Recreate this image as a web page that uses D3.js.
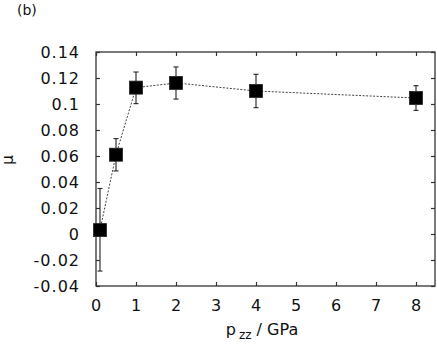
<!DOCTYPE html>
<html>
<head>
<meta charset="utf-8">
<script src="https://cdn.jsdelivr.net/npm/d3@7"></script>
<style>
  body { margin: 0; background: #fff; }
  text { font-family: "DejaVu Sans", sans-serif; fill: #111; }
</style>
</head>
<body>
<div id="chart"></div>
<script>
const WIDTH = 437;
const HEIGHT = 345;

// data
const pressure = [0.1, 0.5, 1, 2, 4, 8];
const mu = [0.003, 0.061, 0.1126, 0.1162, 0.110, 0.1046];
const errUp = [0.032, 0.0124, 0.012, 0.0123, 0.0128, 0.0095];
const errDown = [0.0315, 0.0125, 0.0123, 0.0124, 0.0128, 0.0095];
const xTicks = [0, 1, 2, 3, 4, 5, 6, 7, 8];
const yTicks = [-0.04, -0.02, 0, 0.02, 0.04, 0.06, 0.08, 0.1, 0.12, 0.14];

const LEFT = 96, RIGHT = 435, TOP = 52, BOTTOM = 286;

const x = d3.scaleLinear().domain([0, 8.475]).range([LEFT, RIGHT]);
const y = d3.scaleLinear().domain([-0.04, 0.14]).range([BOTTOM, TOP]);

const svg = d3.select('#chart').append('svg')
  .attr('width', WIDTH)
  .attr('height', HEIGHT);

// plain hyphen for negatives, like the original
const fmt = d => String(+d.toFixed(2));

// ticks on all four sides, pointing inwards
const TL = 4;
svg.append('g')
  .attr('transform', `translate(0,${BOTTOM})`)
  .call(d3.axisBottom(x).tickValues(xTicks).tickSize(-TL).tickPadding(14).tickFormat(d3.format('d')));
svg.append('g')
  .attr('transform', `translate(0,${TOP})`)
  .call(d3.axisTop(x).tickValues(xTicks).tickSize(-TL).tickFormat(''));
svg.append('g')
  .attr('transform', `translate(${LEFT},0)`)
  .call(d3.axisLeft(y).tickValues(yTicks).tickSize(-TL).tickPadding(16).tickFormat(fmt));
svg.append('g')
  .attr('transform', `translate(${RIGHT},0)`)
  .call(d3.axisRight(y).tickValues(yTicks).tickSize(-TL).tickFormat(''));

svg.selectAll('.domain').remove();
svg.selectAll('.tick line').attr('stroke', '#333').attr('stroke-width', 1.2);
svg.selectAll('.tick text')
  .style('font-size', '16px')
  .style('letter-spacing', '1px')
  .attr('fill', '#111');

svg.append('rect')
  .attr('x', LEFT).attr('y', TOP)
  .attr('width', RIGHT - LEFT).attr('height', BOTTOM - TOP)
  .attr('fill', 'none')
  .attr('stroke', '#333')
  .attr('stroke-width', 1.3);

const pts = pressure.map((p, i) => ({ p, m: mu[i], up: errUp[i], dn: errDown[i] }));

// dotted connecting line
svg.append('path')
  .datum(pts)
  .attr('fill', 'none')
  .attr('stroke', '#444')
  .attr('stroke-width', 1)
  .attr('stroke-dasharray', '2,1.5')
  .attr('d', d3.line().x(d => x(d.p)).y(d => y(d.m)));

// error bars
const eb = svg.append('g').attr('stroke', '#333').attr('stroke-width', 1.2);
pts.forEach(d => {
  const cx = x(d.p);
  eb.append('line').attr('x1', cx).attr('x2', cx)
    .attr('y1', y(d.m + d.up)).attr('y2', y(d.m - d.dn));
  eb.append('line').attr('x1', cx - 2.5).attr('x2', cx + 2.5)
    .attr('y1', y(d.m + d.up)).attr('y2', y(d.m + d.up));
  eb.append('line').attr('x1', cx - 2.5).attr('x2', cx + 2.5)
    .attr('y1', y(d.m - d.dn)).attr('y2', y(d.m - d.dn));
});

// square markers
const S = 13;
svg.append('g').selectAll('rect')
  .data(pts)
  .join('rect')
  .attr('x', d => x(d.p) - S / 2)
  .attr('y', d => y(d.m) - S / 2)
  .attr('width', S)
  .attr('height', S)
  .attr('fill', '#000')
  .attr('stroke', '#222')
  .attr('stroke-width', 0.8);

// labels
svg.append('text')
  .attr('x', 17).attr('y', 15)
  .style('font-size', '14px')
  .text('(b)');

svg.append('text')
  .attr('transform', 'translate(13,160) rotate(-90)')
  .attr('text-anchor', 'middle')
  .style('font-size', '15px')
  .text('μ');

const xl = svg.append('text')
  .attr('x', 262).attr('y', 335)
  .attr('text-anchor', 'middle')
  .style('font-size', '16px');
xl.append('tspan').text('p');
xl.append('tspan').attr('dy', 4).attr('dx', 3).style('font-size', '12px').text('zz');
xl.append('tspan').attr('dy', -4).text(' / GPa');
</script>
</body>
</html>
